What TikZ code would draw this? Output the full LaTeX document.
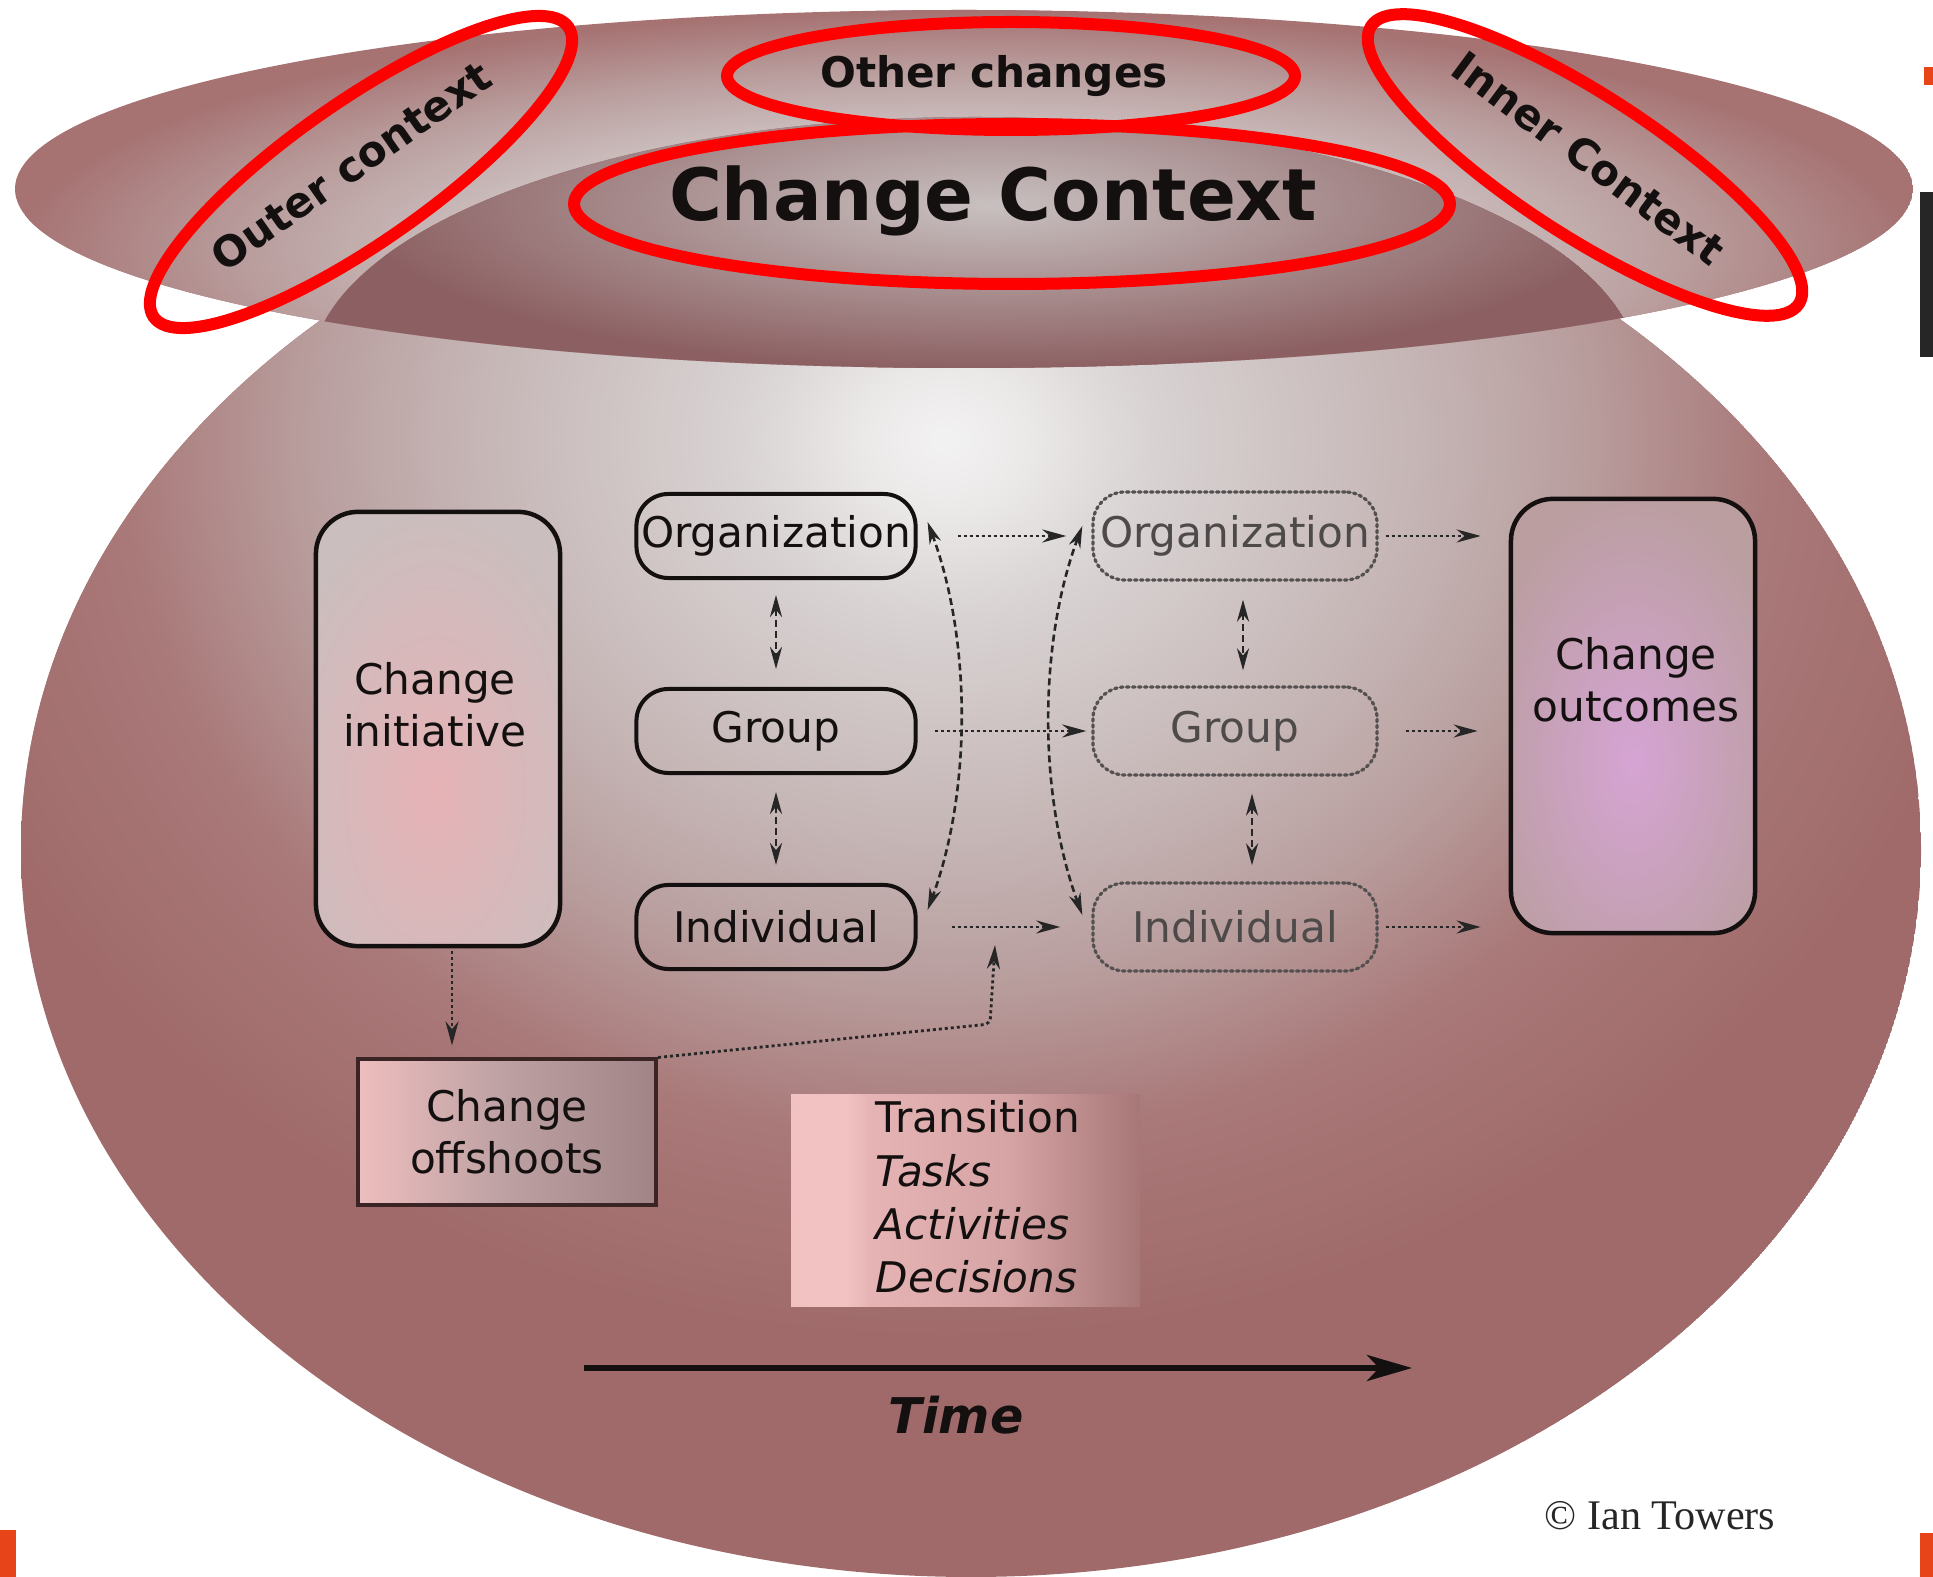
\documentclass[tikz,border=0pt]{standalone}
\usepackage{fontspec}
\setmainfont{DejaVu Sans}
\newfontfamily\creditfont{Liberation Serif}
\usetikzlibrary{arrows.meta,calc}

% palette
\definecolor{bodyA}{HTML}{F3F2F2}
\definecolor{bodyB}{HTML}{EBE8E8}
\definecolor{bodyC}{HTML}{D8D2D2}
\definecolor{bodyD}{HTML}{C6B6B6}
\definecolor{bodyE}{HTML}{B99E9E}
\definecolor{bodyF}{HTML}{A97878}
\definecolor{bodyG}{HTML}{A06A6A}
\definecolor{hatA}{HTML}{D6CDCD}
\definecolor{hatB}{HTML}{CDC0C0}
\definecolor{hatC}{HTML}{BA9E9E}
\definecolor{hatD}{HTML}{A67272}
\definecolor{bowlDark}{HTML}{8C6062}
\definecolor{bowlLight}{HTML}{C8C0C0}
\definecolor{ringred}{HTML}{FF0000}
\definecolor{fadeline}{HTML}{555050}
\definecolor{fadetext}{HTML}{4E4A4A}
\definecolor{initGlow}{HTML}{E6B2B6}
\definecolor{initEdge}{HTML}{CABEBE}
\definecolor{outcGlow}{HTML}{D6A4D4}
\definecolor{outcEdge}{HTML}{BA9EA0}
\definecolor{offLeft}{HTML}{EEBEBE}
\definecolor{offMid}{HTML}{BCA0A2}
\definecolor{offRight}{HTML}{A08486}
\definecolor{offEdge}{HTML}{3A2424}
\definecolor{taskA}{HTML}{F2C2C2}
\definecolor{taskB}{HTML}{E6B4B4}
\definecolor{taskC}{HTML}{D6A4A4}
\definecolor{taskEnd}{HTML}{A77676}
\definecolor{slideorange}{HTML}{E8441A}
\definecolor{inkdark}{HTML}{141010}

\pgfdeclareradialshading{bodyglow}{\pgfpoint{0bp}{0bp}}{%
  color(0bp)=(bodyA); color(2bp)=(bodyB); color(5bp)=(bodyC);
  color(11bp)=(bodyD); color(15bp)=(bodyE); color(19.5bp)=(bodyF);
  color(25bp)=(bodyG); color(50bp)=(bodyG)}
\pgfdeclareradialshading{hatglow}{\pgfpoint{0bp}{0bp}}{%
  color(0bp)=(hatA); color(12.5bp)=(hatB); color(18.75bp)=(hatC);
  color(25bp)=(hatD); color(50bp)=(hatD)}
\pgfdeclarehorizontalshading{taskfade}{100bp}{%
  color(0bp)=(taskA); color(33bp)=(taskA); color(36bp)=(taskB);
  color(56bp)=(taskC); color(75bp)=(taskEnd); color(100bp)=(taskEnd)}

\newcommand{\labfont}{\fontsize{12pt}{14.8pt}\selectfont}
\newcommand{\toplabfont}{\fontsize{12pt}{14pt}\selectfont\bfseries}
\newcommand{\headfont}{\fontsize{20.5pt}{24pt}\selectfont\bfseries}

\begin{document}
\begin{tikzpicture}[x=0.01cm, y=-0.01cm,
  levelbox/.style={draw=inkdark, line width=0.04cm, rounded corners=0.32cm,
    minimum width=2.79cm, minimum height=0.84cm, inner sep=0pt,
    font=\labfont, text=inkdark},
  futurebox/.style={draw=fadeline, line width=0.032cm,
    dash pattern=on 0.025cm off 0.035cm, line cap=round,
    rounded corners=0.32cm, minimum width=2.84cm, minimum height=0.88cm,
    inner sep=0pt, font=\labfont, text=fadetext},
  bigbox/.style={draw=inkdark, line width=0.045cm, rounded corners=0.42cm,
    minimum width=2.44cm, minimum height=4.34cm, inner sep=0pt},
  boxtext/.style={font=\labfont, align=center, inner sep=0pt, text=inkdark},
  flowarrow/.style={draw=black!85, line width=0.028cm,
    dash pattern=on 0.03cm off 0.03cm,
    -{Stealth[length=0.24cm,width=0.13cm]}},
  linkarrow/.style={draw=black!85, line width=0.026cm,
    dash pattern=on 0.07cm off 0.04cm,
    {Stealth[length=0.22cm,width=0.12cm]}-{Stealth[length=0.22cm,width=0.12cm]}},
  timearrow/.style={draw=inkdark, line width=0.05cm,
    -{Stealth[length=0.45cm,width=0.26cm,inset=0.12cm]}},
  ring/.style={draw=ringred, line width=0.12cm},
  toptext/.style={font=\toplabfont, text=inkdark, inner sep=0pt},
]
\useasboundingbox (0,0) rectangle (1933,1577);
\fill[white] (0,0) rectangle (1933,1577);

% ---- lower body of the vessel ----
\begin{scope}
  \clip (971,850) ellipse (950 and 727);
  \fill[bodyG] (971,850) ellipse (950 and 727);
  \shade[shading=bodyglow] (945,440) ellipse (1060 and 900);
\end{scope}

% ---- brim with the inner bowl ----
\begin{scope}
  \clip (964,189) ellipse (949 and 179);
  \fill[hatD] (964,189) ellipse (949 and 179);
  \shade[shading=hatglow] (964,250) ellipse (949 and 240);
  \begin{scope}
    \clip (975,375) ellipse (665 and 258);
    \fill[bowlDark] (975,375) ellipse (665 and 258);
    \shade[inner color=bowlLight, outer color=bowlDark] (990,205) ellipse (640 and 165);
  \end{scope}
\end{scope}

% ---- brim labels ----
\node[toptext] (otherTxt) at (994,76) {Other changes};
\node[toptext, font=\headfont] (contextTxt) at (993,201) {Change Context};
\node[toptext, rotate=35] (outerTxt) at (351,166) {Outer context};
\node[toptext, rotate=-36.5] (innerTxt) at (1589,158) {Inner Context};

% ---- start and end of the change ----
\node[bigbox, fill=initEdge, path picture={
    \shade[inner color=initGlow, outer color=initEdge]
      ($(path picture bounding box.center)+(-4,62)$) ellipse (170 and 290);}]
  (init) at (438,729) {};
\node[boxtext] (initLabel) at (435,705) {Change\\initiative};

\node[bigbox, fill=outcEdge, path picture={
    \shade[inner color=outcGlow, outer color=outcEdge]
      ($(path picture bounding box.center)+(0,45)$) ellipse (160 and 270);}]
  (outc) at (1633,716) {};
\node[boxtext] (outcLabel) at (1636,680) {Change\\outcomes};

% ---- levels, now and later ----
\node[levelbox] (orgL) at (776,536) {Organization};
\node[levelbox] (grpL) at (776,731) {Group};
\node[levelbox] (indL) at (776,927) {Individual};
\node[futurebox] (orgR) at (1235,536) {Organization};
\node[futurebox] (grpR) at (1235,731) {Group};
\node[futurebox] (indR) at (1235,927) {Individual};

% ---- side effects and transition work ----
\node[draw=offEdge, line width=0.04cm, minimum width=2.98cm, minimum height=1.45cm,
      left color=offLeft, right color=offRight, middle color=offMid,
      font=\labfont, align=center, text=inkdark, inner sep=0pt]
  (offs) at (507,1132) {Change\\offshoots};

\shade[shading=taskfade] (791,1095) rectangle (1140,1307);
\node[anchor=west, align=left, inner sep=0pt, text=inkdark,
      font=\fontsize{12pt}{15.2pt}\selectfont]
  (tasks) at (875,1197) {Transition\\\textit{Tasks}\\\textit{Activities}\\\textit{Decisions}};

% ---- links between levels ----
\draw[linkarrow, shorten <=0.15cm, shorten >=0.18cm] (orgL.south) -- (grpL.north);
\draw[linkarrow, shorten <=0.17cm, shorten >=0.18cm] (grpL.south) -- (indL.north);
\draw[linkarrow, shorten <=0.18cm, shorten >=0.15cm]
  ([xshift=0.08cm]orgR.south) -- ([xshift=0.08cm]grpR.north);
\draw[linkarrow, shorten <=0.17cm, shorten >=0.16cm]
  ([xshift=0.17cm]grpR.south) -- ([xshift=0.17cm]indR.north);
\draw[linkarrow] ($(orgL.east)+(10,-14)$) .. controls +(44,118) and +(44,-118) .. ($(indL.east)+(10,-17)$);
\draw[linkarrow] ($(orgR.west)+(-9,-10)$) .. controls +(-44,118) and +(-44,-120) .. ($(indR.west)+(-9,-12)$);

% ---- flow over time ----
\draw[flowarrow, shorten <=0.40cm, shorten >=0.25cm] (orgL) -- (orgR);
\draw[flowarrow, shorten <=0.17cm, shorten >=0.05cm] (grpL) -- (grpR);
\draw[flowarrow, shorten <=0.34cm, shorten >=0.31cm] (indL) -- (indR);
\draw[flowarrow, shorten <=0.07cm, shorten >=0.28cm] (orgR.east) -- (orgR.east -| outc.west);
\draw[flowarrow, shorten <=0.27cm, shorten >=0.31cm] (grpR.east) -- (grpR.east -| outc.west);
\draw[flowarrow, shorten <=0.07cm, shorten >=0.28cm] (indR.east) -- (indR.east -| outc.west);

\draw[flowarrow, shorten <=0.03cm, shorten >=0.12cm]
  ([xshift=0.14cm]init.south) -- ([xshift=0.14cm]init.south |- offs.north);
\coordinate (bend) at (990,1024);
\coordinate (rise) at (995,945);
\draw[flowarrow, rounded corners=0.06cm] (offs.north east) -- (bend) -- (rise);

% ---- time axis ----
\coordinate (tStart) at (584,1368);
\coordinate (tEnd) at (1412,1368);
\draw[timearrow] (tStart) -- (tEnd);
\node[font=\fontsize{14pt}{16pt}\selectfont\bfseries\itshape, text=inkdark, inner sep=0pt]
  (timeLabel) at (956,1415) {Time};

\node[font=\creditfont\fontsize{12pt}{14pt}\selectfont, text=black!85, inner sep=0pt]
  (credit) at (1660,1516) {© Ian Towers};

% ---- highlight rings ----
\draw[ring] (1011,76) ellipse (284 and 54);
\draw[ring] (1012,204) ellipse (438 and 80);
\draw[ring, shift={(361,172)}, rotate=35] (0,0) ellipse (253 and 70);
\draw[ring, shift={(1585,165)}, rotate=-33] (0,0) ellipse (255 and 70);

% ---- slide edge marks ----
\fill[slideorange] (0,1530) rectangle (16,1577);
\fill[slideorange] (1920,1533) rectangle (1933,1577);
\fill[slideorange] (1924,67) rectangle (1933,85);
\fill[black!85] (1920,192) rectangle (1933,357);
\end{tikzpicture}
\end{document}
